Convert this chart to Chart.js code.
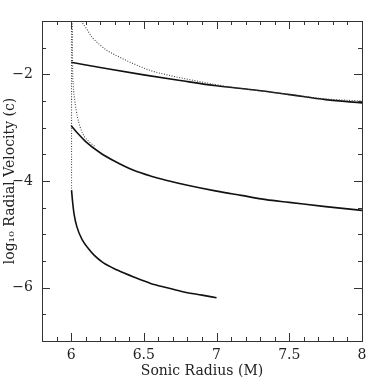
<!DOCTYPE html>
<html>
<head>
<meta charset="utf-8">
<script src="https://cdn.jsdelivr.net/npm/chart.js@4.4.1/dist/chart.umd.min.js"></script>
<style>
  html, body { margin:0; padding:0; background:#fff; }
  #wrap { width:382px; height:382px; }
</style>
</head>
<body>
<div id="wrap"><canvas id="c"></canvas></div>
<script>
/* sonic radius vs log10 radial velocity */

// axis ticks
const X_MAJOR = [6, 6.5, 7, 7.5, 8];
const X_MINOR = [5.9, 6.1, 6.2, 6.3, 6.4, 6.6, 6.7, 6.8, 6.9, 7.1, 7.2, 7.3, 7.4, 7.6, 7.7, 7.8, 7.9];
const Y_MAJOR = [-6, -4, -2];
const Y_MINOR = [-6.5, -5.5, -5, -4.5, -3.5, -3, -2.5, -1.5];

// solid curves
const TOP_X = [6.0, 6.25, 6.5, 6.75, 7.0, 7.25, 7.5, 7.75, 8.0];
const TOP_Y = [-1.775, -1.895, -2.01, -2.115, -2.215, -2.29, -2.38, -2.475, -2.535];

const MID_X = [6.0, 6.05, 6.1, 6.2, 6.3, 6.43, 6.55, 6.66, 6.8, 7.0, 7.17, 7.34, 7.5, 7.75, 8.0];
const MID_Y = [-2.96, -3.12, -3.26, -3.47, -3.63, -3.80, -3.91, -3.99, -4.08, -4.19, -4.27, -4.35, -4.40, -4.48, -4.55];

const LOW_X = [6.003, 6.01, 6.02, 6.04, 6.078, 6.12, 6.158, 6.22, 6.318, 6.43, 6.547, 6.66, 6.776, 6.9, 7.0];
const LOW_Y = [-4.17, -4.38, -4.61, -4.86, -5.11, -5.27, -5.39, -5.53, -5.67, -5.80, -5.92, -6.00, -6.08, -6.14, -6.19];

// dotted curves
const DOT1_X = [6.069, 6.1, 6.149, 6.2, 6.24, 6.32, 6.42, 6.547, 6.66, 6.89, 7.1, 7.3, 7.5, 7.75, 8.0];
const DOT1_Y = [-1.0, -1.12, -1.32, -1.45, -1.54, -1.66, -1.79, -1.93, -2.01, -2.14, -2.24, -2.31, -2.375, -2.46, -2.50];

const DOT2_X = [6.008, 6.01, 6.015, 6.025, 6.044, 6.078, 6.135, 6.17];
const DOT2_Y = [-1.0, -1.8, -2.2, -2.48, -2.8, -3.1, -3.29, -3.36];

const DOT3_X = [6.003, 6.003];
const DOT3_Y = [-1.0, -4.17];

const pts = (xs, ys) => xs.map((x, i) => ({x, y: ys[i]}));

function solid(xs, ys){
  return {data: pts(xs, ys), showLine:true, borderColor:'#111', borderWidth:1.6,
          pointRadius:0, cubicInterpolationMode:'monotone', fill:false};
}
function dotted(xs, ys){
  return {data: pts(xs, ys), showLine:true, borderColor:'#444', borderWidth:1.1,
          borderDash:[1, 1.6], pointRadius:0, cubicInterpolationMode:'monotone', fill:false};
}

const FONT = {family:'"DejaVu Serif", "Liberation Serif", serif', size:14};
const INK = '#222';

const minus = v => (v < 0 ? '\u2212' : '') + Math.abs(v);

// inward ticks on all four sides + frame
const frameTicks = {
  id:'frameTicks',
  afterDraw(chart){
    const {ctx, chartArea:a, scales:{x, y}} = chart;
    ctx.save();
    ctx.strokeStyle = '#333';
    ctx.lineWidth = 1;
    ctx.beginPath();
    const tx = (v, len) => {
      const p = Math.round(x.getPixelForValue(v)) + 0.5;
      ctx.moveTo(p, a.bottom); ctx.lineTo(p, a.bottom - len);
      ctx.moveTo(p, a.top); ctx.lineTo(p, a.top + len);
    };
    const ty = (v, len) => {
      const p = Math.round(y.getPixelForValue(v)) + 0.5;
      ctx.moveTo(a.left, p); ctx.lineTo(a.left + len, p);
      ctx.moveTo(a.right, p); ctx.lineTo(a.right - len, p);
    };
    X_MAJOR.forEach(v => tx(v, 8));
    X_MINOR.forEach(v => tx(v, 4));
    Y_MAJOR.forEach(v => ty(v, 8));
    Y_MINOR.forEach(v => ty(v, 4));
    ctx.stroke();
    ctx.strokeRect(Math.round(a.left) + 0.5, Math.round(a.top) + 0.5,
                   Math.round(a.right - a.left), Math.round(a.bottom - a.top));
    ctx.restore();
  }
};

new Chart(document.getElementById('c'), {
  type:'scatter',
  data:{datasets:[
    dotted(DOT3_X, DOT3_Y),
    dotted(DOT2_X, DOT2_Y),
    dotted(DOT1_X, DOT1_Y),
    solid(TOP_X, TOP_Y),
    solid(MID_X, MID_Y),
    solid(LOW_X, LOW_Y)
  ]},
  options:{
    responsive:true, maintainAspectRatio:false, animation:false,
    layout:{padding:{top:21, right:20, left:0, bottom:0}},
    plugins:{legend:{display:false}, tooltip:{enabled:false}},
    scales:{
      x:{
        type:'linear', min:5.8, max:8,
        grid:{display:false, drawTicks:false}, border:{display:false},
        afterBuildTicks: s => { s.ticks = X_MAJOR.map(v => ({value:v})); },
        afterFit: s => { s.height = 41; },
        ticks:{font:FONT, color:INK, padding:6, maxRotation:0, callback: v => minus(v)},
        title:{display:true, text:'Sonic Radius (M)', font:FONT, color:INK, padding:{top:0, bottom:2}}
      },
      y:{
        type:'linear', min:-7, max:-1,
        grid:{display:false, drawTicks:false}, border:{display:false},
        afterBuildTicks: s => { s.ticks = Y_MAJOR.map(v => ({value:v})); },
        afterFit: s => { s.width = 42; },
        ticks:{font:FONT, color:INK, padding:9, callback: v => minus(v)},
        title:{display:true, text:'log\u2081\u2080 Radial Velocity (c)', font:FONT, color:INK, padding:{top:2, bottom:0}}
      }
    }
  },
  plugins:[frameTicks]
});
</script>
</body>
</html>
